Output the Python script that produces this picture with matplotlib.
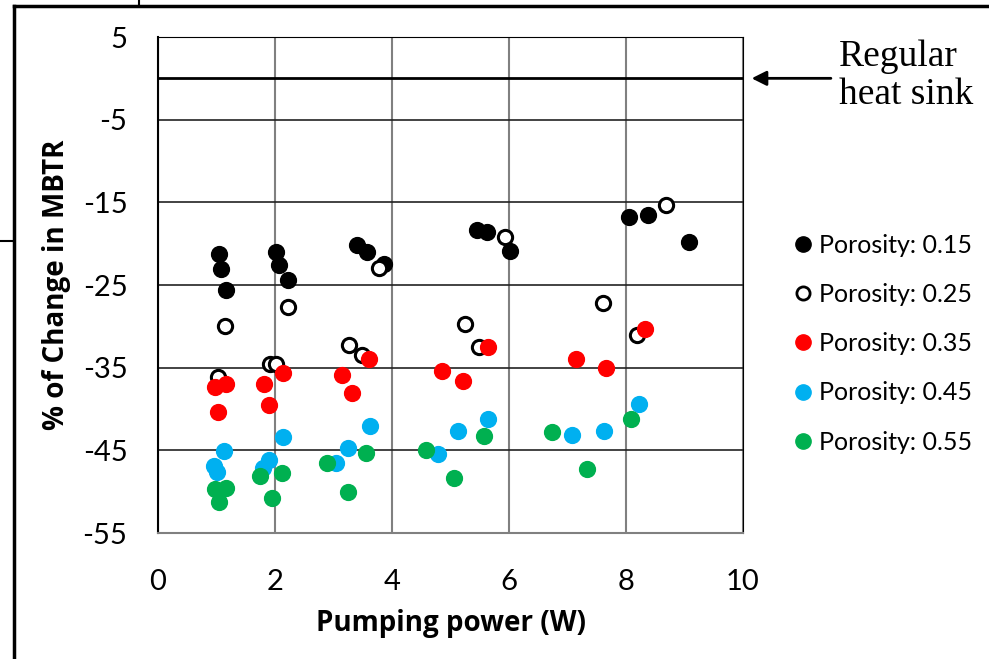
import matplotlib.pyplot as plt
from matplotlib.lines import Line2D

plt.rcParams["axes.unicode_minus"] = False

# % change in MBTR vs pumping power, per porosity
x_015 = [1.05, 1.08, 1.17, 2.01, 2.06, 2.22, 3.40, 3.57, 3.87, 5.45, 5.63, 6.02, 8.05, 8.38, 9.08]
y_015 = [-21.3, -23.1, -25.6, -21.0, -22.6, -24.4, -20.2, -21.0, -22.5, -18.4, -18.6, -20.9, -16.8, -16.5, -19.8]

x_025 = [1.03, 1.15, 1.91, 2.02, 2.22, 3.27, 3.48, 3.78, 5.25, 5.49, 5.93, 7.60, 8.19, 8.69]
y_025 = [-36.1, -30.0, -34.5, -34.6, -27.7, -32.3, -33.5, -22.9, -29.7, -32.5, -19.2, -27.2, -31.0, -15.3]

x_035 = [0.98, 1.17, 1.03, 1.82, 1.90, 2.13, 3.15, 3.31, 3.61, 4.85, 5.22, 5.64, 7.15, 7.66, 8.32]
y_035 = [-37.3, -37.0, -40.4, -37.0, -39.5, -35.7, -35.9, -38.1, -34.0, -35.4, -36.6, -32.5, -33.9, -35.1, -30.3]

x_045 = [1.13, 0.96, 1.00, 1.90, 1.80, 2.13, 3.05, 3.24, 3.62, 4.79, 5.13, 5.64, 7.08, 7.63, 8.23]
y_045 = [-45.1, -46.9, -47.6, -46.2, -47.1, -43.4, -46.5, -44.7, -42.1, -45.4, -42.7, -41.2, -43.1, -42.7, -39.4]

x_055 = [0.97, 1.17, 1.04, 1.74, 2.12, 1.95, 2.89, 3.25, 3.55, 4.58, 5.06, 5.58, 6.74, 7.34, 8.09]
y_055 = [-49.7, -49.6, -51.2, -48.1, -47.7, -50.8, -46.5, -50.0, -45.3, -45.0, -48.4, -43.3, -42.8, -47.3, -41.2]

labels = ["Porosity: 0.15", "Porosity: 0.25", "Porosity: 0.35", "Porosity: 0.45", "Porosity: 0.55"]

fig = plt.figure(figsize=(9.89, 6.59), dpi=100)
ax = fig.add_axes([158 / 989, 1 - 533 / 659, 585 / 989, 496 / 659])

ms = 130
ax.scatter(x_015, y_015, s=ms, color="black", zorder=3)
ax.scatter(x_025, y_025, s=105, facecolor="white", edgecolor="black", linewidth=2.2, zorder=3)
ax.scatter(x_035, y_035, s=ms, color="#ff0000", zorder=3)
ax.scatter(x_045, y_045, s=ms, color="#00b0f0", zorder=3)
ax.scatter(x_055, y_055, s=ms, color="#00b050", zorder=3)

# baseline: regular heat sink
ax.axhline(0, color="black", lw=2, zorder=2)

ax.set_xlim(0, 10)
ax.set_ylim(-55, 5)
ax.set_xticks([0, 2, 4, 6, 8, 10])
ax.set_yticks([5, -5, -15, -25, -35, -45, -55])
ax.grid(axis="y", color="#222222", lw=1.2)
ax.grid(axis="x", color="#808080", lw=1.5)
ax.set_axisbelow(True)
ax.tick_params(length=0, labelsize=21)
ax.tick_params(axis="y", pad=22)
ax.tick_params(axis="x", pad=26)
for lab in ax.get_xticklabels() + ax.get_yticklabels():
    lab.set_family("Lato")
ax.spines["left"].set_color("black")
ax.spines["left"].set_linewidth(1.5)
ax.spines["bottom"].set_color("#808080")
ax.spines["bottom"].set_linewidth(1.5)
ax.spines["top"].set_color("black")
ax.spines["right"].set_color("black")

ax.set_xlabel("Pumping power (W)", fontsize=20, fontweight="bold", family="Open Sans", labelpad=10)
ax.set_ylabel("% of Change in MBTR", fontsize=20, fontweight="bold", family="Open Sans", labelpad=8)

# legend
handles = [
    Line2D([], [], ls="", marker="o", ms=11, color="black"),
    Line2D([], [], ls="", marker="o", ms=9.5, mfc="white", mec="black", mew=2),
    Line2D([], [], ls="", marker="o", ms=11, color="#ff0000"),
    Line2D([], [], ls="", marker="o", ms=11, color="#00b0f0"),
    Line2D([], [], ls="", marker="o", ms=11, color="#00b050"),
]
fig.legend(handles, labels, loc="upper left", bbox_to_anchor=(783 / 989, 1 - 221 / 659),
           frameon=False, prop={"family": "Lato", "size": 18}, handlelength=0.6,
           handletextpad=0.35, labelspacing=1.05, borderpad=0)

# annotation
ax.annotate("", xy=(10.1, 0), xytext=(11.55, 0), xycoords="data", textcoords="data",
            annotation_clip=False,
            arrowprops=dict(arrowstyle="-|>", color="black", lw=2, mutation_scale=22))
fig.text(839 / 989, 1 - 76 / 659, "Regular\nheat sink", ha="left", va="center",
         multialignment="left", family="Liberation Serif", fontsize=27, linespacing=1.12)

# frame lines around the picture
fig.add_artist(Line2D([14 / 989, 1], [1 - 6 / 659, 1 - 6 / 659], color="black", lw=2.5))
fig.add_artist(Line2D([14 / 989, 14 / 989], [0, 1 - 6 / 659], color="black", lw=2.5))
fig.add_artist(Line2D([139 / 989, 139 / 989], [1 - 6 / 659, 1], color="black", lw=1.5))
fig.add_artist(Line2D([0, 14 / 989], [1 - 241 / 659, 1 - 241 / 659], color="black", lw=1.5))

fig.savefig("out.png", dpi=100)
